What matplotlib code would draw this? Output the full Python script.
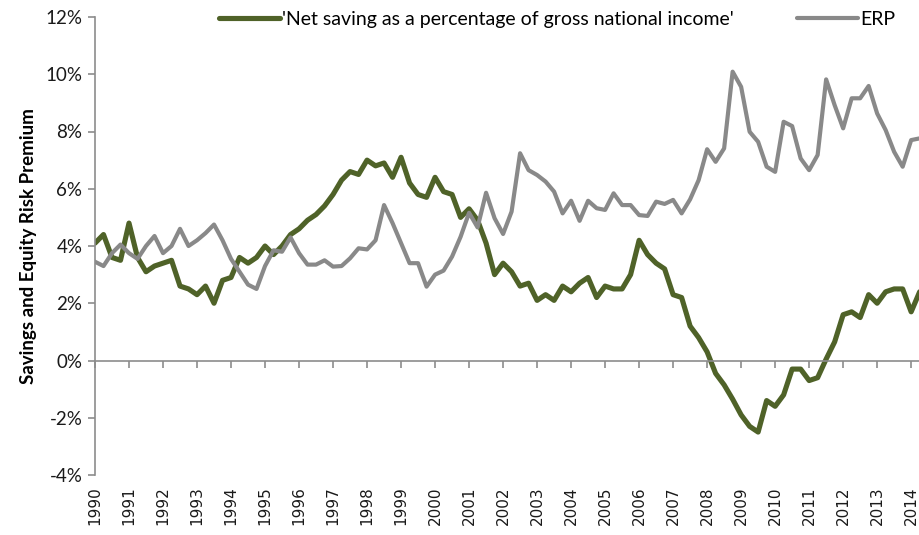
import numpy as np
import matplotlib
matplotlib.use("Agg")
import matplotlib.pyplot as plt
from matplotlib.ticker import FuncFormatter

# quarterly observations, 1990 Q1 .. 2014 Q2 (percent)
net_saving = [
    4.1, 4.4, 3.6, 3.5, 4.8, 3.6, 3.1, 3.3, 3.4, 3.5, 2.6, 2.5,
    2.3, 2.6, 2.0, 2.8, 2.9, 3.6, 3.4, 3.6, 4.0, 3.7, 4.0, 4.4,
    4.6, 4.9, 5.1, 5.4, 5.8, 6.3, 6.6, 6.5, 7.0, 6.8, 6.9, 6.4,
    7.1, 6.2, 5.8, 5.7, 6.4, 5.9, 5.8, 5.0, 5.3, 4.9, 4.1, 3.0,
    3.4, 3.1, 2.6, 2.7, 2.1, 2.3, 2.1, 2.6, 2.4, 2.7, 2.9, 2.2,
    2.6, 2.5, 2.5, 3.0, 4.2, 3.7, 3.4, 3.2, 2.3, 2.2, 1.2, 0.8,
    0.3, -0.45, -0.85, -1.35, -1.9, -2.3, -2.5, -1.4, -1.6, -1.2, -0.3, -0.3,
    -0.7, -0.6, 0.05, 0.65, 1.6, 1.7, 1.5, 2.3, 2.0, 2.4, 2.5, 2.5,
    1.7, 2.4,
]
erp = [
    3.45, 3.3, 3.75, 4.05, 3.75, 3.55, 4.0, 4.35, 3.75, 4.0, 4.6, 4.0,
    4.2, 4.45, 4.75, 4.2, 3.55, 3.1, 2.65, 2.5, 3.3, 3.85, 3.8, 4.3,
    3.75, 3.35, 3.35, 3.5, 3.28, 3.3, 3.57, 3.92, 3.88, 4.2, 5.43, 4.8,
    4.1, 3.4, 3.4, 2.58, 3.0, 3.14, 3.63, 4.32, 5.16, 4.65, 5.86, 4.97,
    4.42, 5.2, 7.24, 6.65, 6.48, 6.25, 5.9, 5.14, 5.58, 4.88, 5.58, 5.32,
    5.26, 5.84, 5.43, 5.43, 5.08, 5.05, 5.55, 5.47, 5.61, 5.14, 5.63, 6.3,
    7.38, 6.94, 7.41, 10.09, 9.56, 7.99, 7.64, 6.77, 6.59, 8.34, 8.19, 7.06,
    6.65, 7.18, 9.82, 8.92, 8.11, 9.16, 9.16, 9.59, 8.63, 8.05, 7.29, 6.77,
    7.7, 7.76,
]
years = list(range(1990, 2015))
y_ticks = [-4, -2, 0, 2, 4, 6, 8, 10, 12]

green = "#4F6228"
grey = "#898989"
axis_grey = "#8C8C8C"

t = 1990 + np.arange(len(net_saving)) / 4.0

fig = plt.figure(figsize=(9.2, 5.35), dpi=100)
ax = fig.add_axes([95 / 920, 60 / 535, 825 / 920, 458 / 535])

ax.plot(t, net_saving, color=green, lw=3.7, solid_joinstyle="round",
        solid_capstyle="round",
        label="'Net saving as a percentage of gross national income'")
ax.plot(t, erp, color=grey, lw=3.0, solid_joinstyle="round",
        solid_capstyle="round", label="ERP")

ax.set_xlim(1990, t[-1] + 0.01)
ax.set_ylim(-4, 12)

# y axis
ax.set_yticks(y_ticks)
ax.yaxis.set_major_formatter(FuncFormatter(lambda v, p: f"{v:.0f}%"))
ax.tick_params(axis="y", direction="out", length=5, width=1.2,
               color=axis_grey, pad=4, labelsize=13.5, labelcolor="#1a1a1a")
for lab in ax.get_yticklabels():
    lab.set_family("Lato")
ax.spines["left"].set_color(axis_grey)
ax.spines["left"].set_linewidth(1.2)
ax.spines["top"].set_visible(False)
ax.spines["right"].set_visible(False)

# category axis crosses at zero, labels stay at the bottom
ax.spines["bottom"].set_position(("data", 0))
ax.spines["bottom"].set_color(axis_grey)
ax.spines["bottom"].set_linewidth(1.2)
ax.set_xticks(years)
ax.tick_params(axis="x", direction="out", length=5, width=1.2,
               color=axis_grey, labelbottom=False)
for yr in years:
    ax.text(yr, -0.025, str(yr), transform=ax.get_xaxis_transform(),
            rotation=90, ha="center", va="top", fontsize=11,
            family="DejaVu Sans", color="#1a1a1a")

ax.set_ylabel("Savings and Equity Risk Premium", family="Lato",
              fontweight="bold", fontsize=13.5, labelpad=6)

fig.legend(loc="center", bbox_to_anchor=(0.606, 0.963), ncol=2,
           frameon=False, handlelength=3.1, handletextpad=0.15,
           columnspacing=3.25, prop={"family": "Lato", "size": 14})

fig.savefig("out.png", dpi=100)
